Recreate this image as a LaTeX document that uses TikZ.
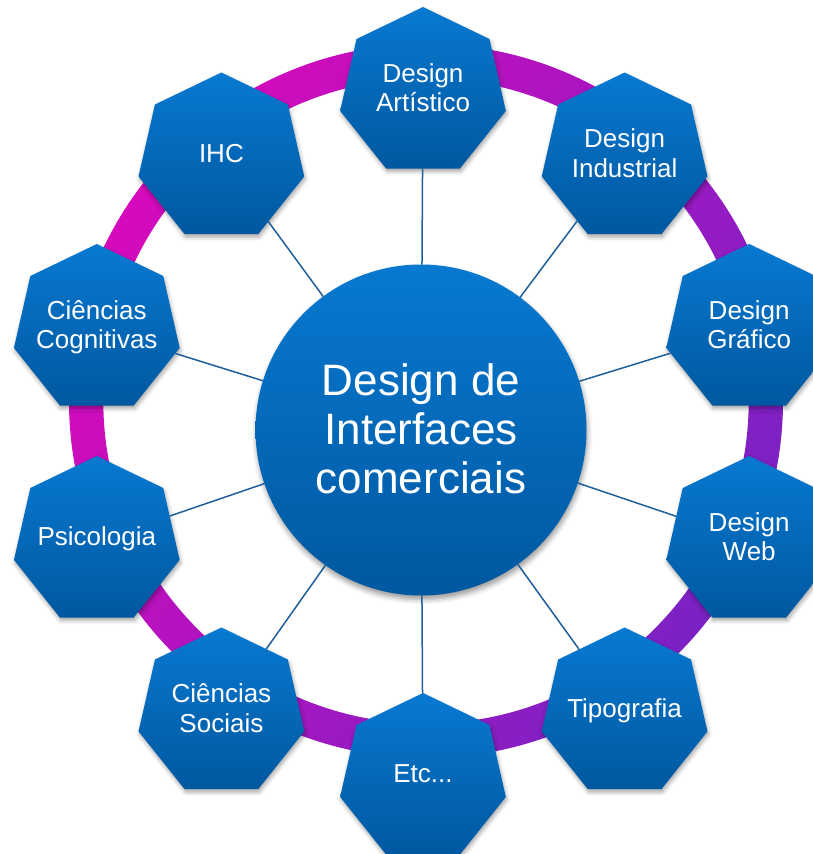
\documentclass[tikz,border=0pt]{standalone}
\usepackage{fontspec}
\setmainfont{Liberation Sans}
\usetikzlibrary{shapes.geometric,shadows.blur}
\definecolor{blueTop}{RGB}{8,121,209}
\definecolor{blueBot}{RGB}{0,88,160}
\definecolor{ringMag}{RGB}{214,10,188}
\definecolor{ringPur}{RGB}{122,34,196}
\definecolor{lineBlue}{RGB}{30,94,153}
\begin{document}
\begin{tikzpicture}[x=1pt,y=-1pt,
  hept/.style={regular polygon, regular polygon sides=7, minimum size=170pt,
    inner sep=0pt, outer sep=0pt, draw=none, top color=blueTop, bottom color=blueBot,
    blur shadow={shadow xshift=1pt, shadow yshift=-3pt, shadow blur radius=4pt, shadow opacity=35}},
  hub/.style={circle, minimum size=331pt, inner sep=0pt, outer sep=0pt, draw=none,
    top color=blueTop, bottom color=blueBot,
    blur shadow={shadow xshift=1pt, shadow yshift=-4pt, shadow blur radius=5pt, shadow opacity=40}},
  htext/.style={anchor=base, text=white, align=center, inner sep=0pt,
    font=\fontsize{26}{29.5}\selectfont},
  hubtext/.style={anchor=base, text=white, align=center, inner sep=0pt,
    font=\fontsize{44}{49}\selectfont},
  conn/.style={draw=lineBlue, line width=1.5pt}]
\useasboundingbox (0,0) rectangle (813,854);

% ring
\shade[even odd rule, top color=ringMag, bottom color=ringPur, shading angle=60]
  (426,401) circle[radius=357] (426,401) circle[radius=322.7];

% hub and satellites
\node[hub] (hub) at (421,430) {};
\node[hept] (h1) at (423,92) {};
\node[hept] (h2) at (624.6,157.5) {};
\node[hept] (h3) at (749.2,329) {};
\node[hept] (h4) at (749.2,541) {};
\node[hept] (h5) at (624.6,712.5) {};
\node[hept] (h6) at (423,778) {};
\node[hept] (h7) at (221.4,712.5) {};
\node[hept] (h8) at (96.8,541) {};
\node[hept] (h9) at (96.8,329) {};
\node[hept] (h10) at (221.4,157.5) {};

% connectors
\foreach \n in {h1,h2,h3,h4,h5,h6,h7,h8,h9,h10}
  \draw[conn] (hub) -- (\n);

% texts
\node[hubtext] (thub) at ([yshift=-63pt]hub.center) {Design de\\Interfaces\\comerciais};
\node[htext] (t1) at ([yshift=-19.5pt]h1.center) {Design\\Artístico};
\node[htext] (t2) at ([yshift=-19.5pt]h2.center) {Design\\Industrial};
\node[htext] (t3) at ([yshift=-19.5pt]h3.center) {Design\\Gráfico};
\node[htext] (t4) at ([yshift=-19.5pt]h4.center) {Design\\Web};
\node[htext] (t5) at ([yshift=-4.5pt]h5.center) {Tipografia};
\node[htext] (t6) at ([yshift=-4.5pt]h6.center) {Etc...};
\node[htext] (t7) at ([yshift=-19.5pt]h7.center) {Ciências\\Sociais};
\node[htext] (t8) at ([yshift=-4.5pt]h8.center) {Psicologia};
\node[htext] (t9) at ([yshift=-19.5pt]h9.center) {Ciências\\Cognitivas};
\node[htext] (t10) at ([yshift=-4.5pt]h10.center) {IHC};
\end{tikzpicture}
\end{document}
